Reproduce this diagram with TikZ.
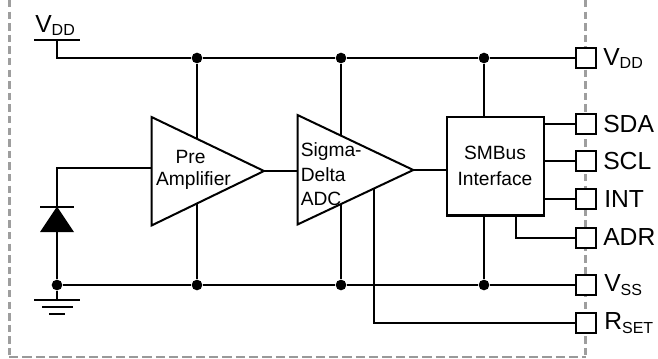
\documentclass[tikz,border=0pt]{standalone}
\usepackage{fontspec}
\setmainfont{Liberation Sans}
\newcommand{\pinlabel}[2]{\fontsize{18.5}{20}\selectfont #1\textsubscript{\fontsize{12}{12}\selectfont #2}}
\tikzset{
  wire/.style={draw=black,line width=1.5pt,line join=miter},
  part/.style={wire,fill=white},
  dotj/.style={circle,fill=black,inner sep=0pt,minimum size=8pt},
  pinbox/.style={draw=black,fill=white,line width=1.5pt,minimum size=15pt,inner sep=0pt},
  pinname/.style={anchor=west,inner sep=0pt,font=\fontsize{18.5}{20}\selectfont},
  small/.style={font=\fontsize{14.4}{17}\selectfont,inner sep=0pt,align=center},
  border/.style={draw=black!38,line width=2.1pt,dash pattern=on 5.5pt off 3.2pt},
  borderb/.style={draw=black!40,line width=1.2pt,dash pattern=on 7pt off 3pt},
}
\begin{document}
\begin{tikzpicture}[x=0.75pt,y=-0.75pt]
\useasboundingbox (0,0) rectangle (658,358);
\draw[border] (9.5,0) -- (9.5,356);
\draw[border] (585.5,0) -- (585.5,356);
\draw[borderb] (9,357) -- (585.7,357);
% pins
\foreach \n/\y in {vdd/58,sda/124,scl/161,int/199,adr/237.5,vss/285,rset/323}
  \node[pinbox] (\n) at (586,\y) {};
\node[pinname] at (603,58.5) {\pinlabel{V}{DD}};
\node[pinname] at (603,124) {SDA};
\node[pinname] at (603,160.7) {SCL};
\node[pinname] at (604,199) {INT};
\node[pinname] at (603,237.5) {ADR};
\node[pinname] at (604,285) {\pinlabel{V}{SS}};
\node[pinname] at (604,323.3) {\pinlabel{R}{SET}};
% junctions and helper points
\coordinate (vs) at (57,58);
\coordinate (vbL) at (34,40); \coordinate (vbR) at (80,40); \coordinate (vbM) at (57,40);
\node[dotj] (d1) at (197,58) {};
\node[dotj] (d2) at (341,58) {};
\node[dotj] (d3) at (484,58) {};
\node[dotj] (g0) at (57,285) {};
\node[dotj] (g1) at (197,285) {};
\node[dotj] (g2) at (341,285) {};
\node[dotj] (g3) at (484,285) {};
% rails
\draw[wire] (vbM) -- (vs) -- (d1) -- (d2) -- (d3) -- (vdd.west);
\draw[wire] (vbL) -- (vbR);
\draw[wire] (g0) -- (g1) -- (g2) -- (g3) -- (vss.west);
% stems
\draw[wire] (d1) -- (g1);
\draw[wire] (d2) -- (g2);
\draw[wire] (d3) -- (g3);
% RSET
\coordinate (rt) at (374,189);
\coordinate (rb) at (374,323);
% input
\coordinate (ic) at (57,168);
\coordinate (ip) at (151.5,168);
\draw[wire] (g0) -- (ic) -- (ip);
% diode
\coordinate (dA) at (57,206.5);
\draw[wire] (40,206.5) -- (74,206.5);
\fill[black] (dA) -- (74,232) -- (40,232) -- cycle;
% ground
\coordinate (gb) at (57,299.5);
\draw[wire] (g0) -- (gb);
\draw[wire] (34,299.5) -- (80,299.5);
\draw[wire] (42,306.5) -- (73,306.5);
\draw[wire] (49,314) -- (65,314);
% triangles
\draw[part] (151.5,117) -- (264,171) -- (151.5,225.5) -- cycle;
\draw[part] (297.5,115) -- (413.3,170) -- (297.5,224.5) -- cycle;
\coordinate (pout) at (264,171);
\coordinate (ain) at (297.5,171);
\coordinate (aout) at (413.3,170);
\draw[wire] (pout) -- (ain);
\draw[wire] (rt) -- (rb) -- (rset.west);
% SMBus
\node[part,line width=1.8pt,minimum width=72.5pt,minimum height=74pt,inner sep=0pt] (smb) at (495.5,166.3) {};
\coordinate (sin) at (smb.west |- aout);
\draw[wire] (aout) -- (sin);
\draw[wire] (smb.east |- sda) -- (sda.west);
\draw[wire] (smb.east |- scl) -- (scl.west);
\draw[wire] (smb.east |- int) -- (int.west);
\coordinate (ab) at (516,215.7);
\draw[wire] (ab) -- (516,237.5) -- (adr.west);
% labels
\node[small] (t1) at (190.5,156.5) {Pre};
\node[small] (t2) at (193.5,181) {Amplifier};
\node[small,anchor=west] (t3) at (300.5,151.5) {Sigma-};
\node[small,anchor=west] (t4) at (300.5,175) {Delta};
\node[small,anchor=west] (t5) at (300.5,199) {ADC};
\node[small] (t6) at (495,166) {SMBus\\[3pt]Interface};
\node[pinname,anchor=base west] (t7) at (35,32) {\pinlabel{V}{DD}};
\end{tikzpicture}
\end{document}
